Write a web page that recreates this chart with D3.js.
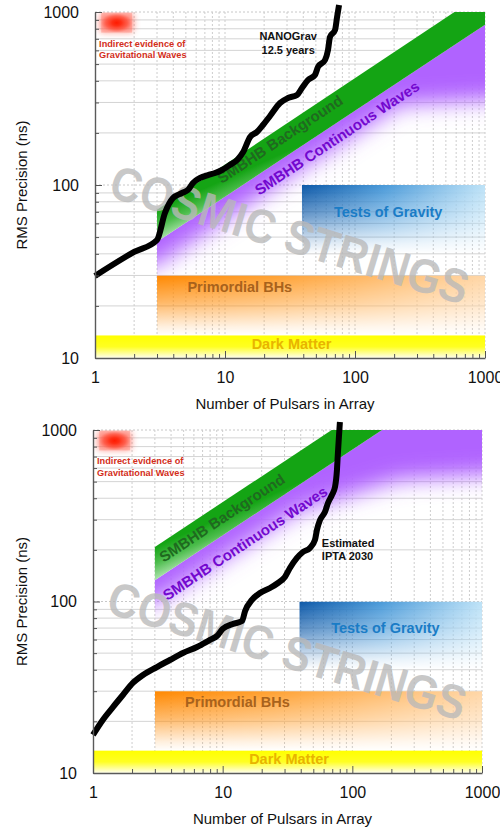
<!DOCTYPE html>
<html><head><meta charset="utf-8">
<script src="https://cdn.jsdelivr.net/npm/d3@7"></script>
<style>
body{margin:0;background:#fff}
svg{display:block}
text{font-family:"Liberation Sans",Arial,Helvetica,sans-serif}
</style>
</head><body>
<svg id="c" width="500" height="831"></svg>
<script>
// ---------------- data ----------------
const xTickValues = [1, 10, 100, 1000];
const xTickLabels = ["1", "10", "100", "1000"];
const yTickValues = [10, 100, 1000];
const yTickLabels = ["10", "100", "1000"];
const xAxisTitle = "Number of Pulsars in Array";
const yAxisTitle = "RMS Precision (ns)";

// NANOGrav 12.5 yr sensitivity curve (top panel)
const nanogravN   = [1, 2, 3, 3.45, 3.98, 4.67, 5.19, 5.67, 6.43, 7.4, 8.38, 9.48, 10.9, 12.4, 13.8, 15.6, 17.6, 19.6, 22.2, 26.5, 30.5, 35.8, 39.1, 43.5, 49.2, 51.9, 58.8, 62, 64.2, 70.2, 72.8, 75.4];
const nanogravRMS = [29.8, 41, 48.1, 68.9, 84.1, 89.9, 93.6, 102.7, 109.8, 114.2, 117.3, 122.1, 130.5, 139.5, 155.1, 189.4, 202.4, 222.2, 250.6, 297.8, 318.4, 331.3, 363.8, 404.6, 432.5, 480.9, 528.1, 603.3, 716.6, 787, 935.5, 1097];
// Estimated IPTA 2030 curve (bottom panel)
const iptaN   = [1, 1.19, 1.43, 1.70, 2.03, 2.43, 3.11, 3.92, 4.94, 6.34, 7.98, 9.04, 10.0, 12.0, 14.1, 14.9, 16.8, 19.4, 23.2, 26.7, 30.2, 33.0, 37.4, 41.6, 47.1, 51.5, 53.3, 56.3, 61.5, 64.9, 69.6, 73.5, 76.1, 77.4, 78.8, 80.2];
const iptaRMS = [16.7, 20.4, 24.3, 28.5, 33.5, 37.3, 41.5, 45.6, 50.1, 54.3, 59.7, 62.9, 69.2, 74.0, 76.9, 88.1, 102.1, 112.1, 119.9, 128.2, 139.0, 156.7, 179.5, 194.4, 205.1, 228.5, 261.2, 298.5, 332.7, 375.4, 417.8, 465.3, 584.5, 734.3, 910.1, 1113];

// SMBHB bands (edges at N = 3 and N = 1000)
const bandN = [3, 1000];
const gwbUpperA = [72, 1310],  gwbLowerA = [47, 845];
const gwbUpperB = [208, 3800], gwbLowerB = [133, 2430];
// where the continuous-wave (purple) band has faded half way
const cwFadeNA = [1, 3, 39, 222, 1000, 3000], cwFadeRMSA = [30, 34.5, 125, 290, 310, 320];
const cwFadeNB = [1, 3, 39.4, 231, 1000, 3000], cwFadeRMSB = [85, 98, 342, 511, 547, 560];

// science regions
const darkMatterN = [1, 1000],  darkMatterRMS = [10, 13.5];
const pbhN = [3, 1000],         pbhRMS = [13.5, 30];
const gravityN = [39, 1000],    gravityRMS = [40, 100];
const indirectN = [1.04, 2.07], indirectRMS = [750, 1000];

// labels
const regionLabels = ["Dark Matter", "Primordial BHs", "Tests of Gravity"];
const regionLabelN = [32.5, 13, 180];
const regionLabelRMS = [11.25, 24.2, 65.5];
const regionLabelColors = ["#e8b400", "#a8621c", "#1a7cc6"];
const indirectLabel = ["Indirect evidence of", "Gravitational Waves"];
const indirectLabelPos = [1.075, 630];
const gwbLabel = "SMBHB Background";
const cwLabel = "SMBHB Continuous Waves";
const gwbLabelPosA = [26.5, 184], cwLabelPosA = [72.7, 187];
const gwbLabelPosB = [9.88, 307], cwLabelPosB = [14.9, 219];
const stringsLabel = "COSMIC STRINGS";
const stringsPos = [31.6, 52];
const nanoLabel = ["NANOGrav", "12.5 years"], nanoLabelPos = [30.6, 690];
const iptaLabel = ["Estimated", "IPTA 2030"], iptaLabelPos = [58.2, 208];

// ---------------- drawing ----------------
const svg = d3.select("#c");
const defs = svg.append("defs");

function addLinear(id, attrs, stops) {
  const g = defs.append("linearGradient").attr("id", id);
  Object.entries(attrs).forEach(([k, v]) => g.attr(k, v));
  stops.forEach(s => g.append("stop").attr("offset", s[0]).attr("stop-color", s[1]).attr("stop-opacity", s[2] === undefined ? 1 : s[2]));
  return g;
}

// shared gradients
addLinear("gYellow", {x1: 0, y1: 0, x2: 0, y2: 1}, [[0, "#ffff00"], [0.5, "#ffff22"], [1, "#ffffee"]]);
addLinear("gOrange", {x1: 0, y1: 0, x2: 1, y2: 0}, [[0, "#ff8800"], [0.35, "#ffa030"], [1, "#ffd6a6"]]);
addLinear("gBlue", {x1: 0, y1: 0, x2: 1, y2: 0}, [[0, "#0c58a8"], [0.45, "#4a9ad9"], [1, "#bde2f7"]]);
addLinear("gFadeMask", {x1: 0, y1: 0, x2: 0, y2: 1}, [[0, "#fff"], [0.45, "#999"], [0.85, "#222"], [1, "#000"]]);
const rg = defs.append("radialGradient").attr("id", "gRed");
[[0, "#ff1a00", 1], [0.3, "#ff2a10", 0.95], [0.7, "#ff4a35", 0.7], [1, "#ff7060", 0.35]].forEach(s =>
  rg.append("stop").attr("offset", s[0]).attr("stop-color", s[1]).attr("stop-opacity", s[2]));
defs.append("filter").attr("id", "blurPurple").attr("filterUnits", "userSpaceOnUse")
  .attr("x", 0).attr("y", 0).attr("width", 500).attr("height", 831)
  .append("feGaussianBlur").attr("stdDeviation", 11);
defs.append("filter").attr("id", "blurRed").attr("x", "-40%").attr("y", "-60%").attr("width", "180%").attr("height", "220%")
  .append("feGaussianBlur").attr("stdDeviation", 3.5);

const panels = [
  {key: "a", x0: 95, x1: 485, yTop: 12, yBot: 358,
   curveN: nanogravN, curveRMS: nanogravRMS, curveLabel: nanoLabel, curveLabelPos: nanoLabelPos, curveAnchor: "middle", curveGap: 14,
   gwbUpper: gwbUpperA, gwbLower: gwbLowerA, cwFadeN: cwFadeNA, cwFadeRMS: cwFadeRMSA,
   gwbPos: gwbLabelPosA, cwPos: cwLabelPosA},
  {key: "b", x0: 93, x1: 482, yTop: 430, yBot: 773,
   curveN: iptaN, curveRMS: iptaRMS, curveLabel: iptaLabel, curveLabelPos: iptaLabelPos, curveAnchor: "start", curveGap: 13,
   gwbUpper: gwbUpperB, gwbLower: gwbLowerB, cwFadeN: cwFadeNB, cwFadeRMS: cwFadeRMSB,
   gwbPos: gwbLabelPosB, cwPos: cwLabelPosB}
];

panels.forEach(p => {
  const x = d3.scaleLog().domain([1, 1000]).range([p.x0, p.x1]);
  const y = d3.scaleLog().domain([10, 1000]).range([p.yBot, p.yTop]);
  const g = svg.append("g");
  const isMajor = v => Math.abs(Math.log10(v) - Math.round(Math.log10(v))) < 1e-9;

  defs.append("clipPath").attr("id", "clip" + p.key).append("rect")
    .attr("x", p.x0).attr("y", p.yTop).attr("width", p.x1 - p.x0).attr("height", p.yBot - p.yTop);

  // grid
  const grid = g.append("g");
  y.ticks().filter(v => v > 10).forEach(v => {
    grid.append("line").attr("x1", p.x0).attr("x2", p.x1).attr("y1", y(v)).attr("y2", y(v))
      .attr("stroke", isMajor(v) ? "#c8c8c8" : "#d4d4d4").attr("stroke-width", 1)
      .attr("stroke-dasharray", isMajor(v) ? "2,2" : null);
  });
  x.ticks().filter(v => v > 1).forEach(v => {
    grid.append("line").attr("x1", x(v)).attr("x2", x(v)).attr("y1", p.yTop).attr("y2", p.yBot)
      .attr("stroke", "#cdcdcd").attr("stroke-width", 1).attr("stroke-dasharray", "2,2");
  });

  const bands = g.append("g").attr("clip-path", `url(#clip${p.key})`);
  const P = (n, r) => [x(n), y(r)];

  // red indirect-evidence blob
  const bx = x(indirectN[0]), by = y(indirectRMS[1]), bw = x(indirectN[1]) - bx, bh = y(indirectRMS[0]) - by;
  bands.append("rect")
    .attr("x", bx + 3).attr("y", by + 2).attr("width", bw - 6).attr("height", bh - 4)
    .attr("fill", "#ff5a4a").attr("opacity", 0.75).attr("filter", "url(#blurRed)");
  bands.append("rect")
    .attr("x", bx + 4).attr("y", by + 1).attr("width", bw - 8).attr("height", bh - 2)
    .attr("fill", "url(#gRed)");

  // purple continuous-wave band: blurred polygon clipped below the boundary line
  const cwClipId = "cwclip" + p.key;
  defs.append("clipPath").attr("id", cwClipId).append("polygon")
    .attr("points", [P(bandN[0], p.gwbLower[0]), P(bandN[1], p.gwbLower[1]), P(bandN[1], 1), P(bandN[0], 1)].map(d => d.join(",")).join(" "));
  const cwPts = [[1, 1e6], [3000, 1e6]].concat(
    p.cwFadeN.map((n, i) => [n, p.cwFadeRMS[i]]).reverse());
  bands.append("g").attr("clip-path", `url(#${cwClipId})`)
    .append("polygon")
    .attr("points", cwPts.map(d => P(d[0], d[1]).join(",")).join(" "))
    .attr("fill", "#b064ff").attr("filter", "url(#blurPurple)");

  // green background band
  {
    const p0 = P(bandN[0], p.gwbUpper[0]), p1 = P(bandN[0], p.gwbLower[0]);
    const s = 0.45, len = Math.hypot(s, 1), nx = s / len, ny = 1 / len;
    const d = (p1[0] - p0[0]) * nx + (p1[1] - p0[1]) * ny;
    addLinear("gGreen" + p.key, {gradientUnits: "userSpaceOnUse", x1: p0[0], y1: p0[1], x2: p0[0] + d * nx, y2: p0[1] + d * ny},
      [[0, "#14a414"], [0.5, "#4dbd4d"], [1, "#ace3ac"]]);
    bands.append("polygon")
      .attr("points", [P(bandN[0], p.gwbUpper[0]), P(bandN[1], p.gwbUpper[1]), P(bandN[1], p.gwbLower[1]), P(bandN[0], p.gwbLower[0])].map(d => d.join(",")).join(" "))
      .attr("fill", `url(#gGreen${p.key})`);
  }

  // masks for fading boxes
  let mCount = 0;
  function fadingRect(nArr, rArr, fill) {
    const mid = "m" + p.key + (mCount++);
    const rx = x(nArr[0]), ry = y(rArr[1]), rw = x(nArr[1]) - x(nArr[0]), rh = y(rArr[0]) - y(rArr[1]);
    defs.append("mask").attr("id", mid).attr("maskUnits", "userSpaceOnUse")
      .attr("x", rx - 1).attr("y", ry - 1).attr("width", rw + 2).attr("height", rh + 2)
      .append("rect").attr("x", rx).attr("y", ry).attr("width", rw).attr("height", rh).attr("fill", "url(#gFadeMask)");
    bands.append("rect").attr("x", rx).attr("y", ry).attr("width", rw).attr("height", rh)
      .attr("fill", fill).attr("mask", `url(#${mid})`);
  }
  fadingRect(gravityN, gravityRMS, "url(#gBlue)");
  fadingRect(pbhN, pbhRMS, "url(#gOrange)");

  // dark matter band
  bands.append("rect")
    .attr("x", x(darkMatterN[0])).attr("y", y(darkMatterRMS[1]))
    .attr("width", x(darkMatterN[1]) - x(darkMatterN[0])).attr("height", y(darkMatterRMS[0]) - y(darkMatterRMS[1]))
    .attr("fill", "url(#gYellow)");

  // cosmic strings watermark
  g.append("text")
    .attr("transform", `translate(${x(stringsPos[0])},${y(stringsPos[1])}) rotate(17)`)
    .attr("text-anchor", "middle").attr("dy", "0.36em")
    .attr("font-size", 48).attr("font-weight", "bold")
    .attr("textLength", 372).attr("lengthAdjust", "spacingAndGlyphs")
    .attr("fill", "#b9b9b9").attr("fill-opacity", 0.78)
    .text(stringsLabel);

  // band labels
  const ang = Math.atan2(y(p.gwbLower[1]) - y(p.gwbLower[0]), x(bandN[1]) - x(bandN[0])) * 180 / Math.PI;
  [[gwbLabel, p.gwbPos, "#1f6a1f"], [cwLabel, p.cwPos, "#7308cf"]].forEach(([t, pos, c]) => {
    g.append("text").attr("transform", `translate(${x(pos[0])},${y(pos[1])}) rotate(${ang})`)
      .attr("text-anchor", "middle").attr("dy", "0.35em")
      .attr("font-size", 15).attr("font-weight", "bold").attr("fill", c).text(t);
  });
  regionLabels.forEach((t, i) => {
    g.append("text").attr("x", x(regionLabelN[i])).attr("y", y(regionLabelRMS[i]))
      .attr("text-anchor", "middle").attr("font-size", 14.5).attr("font-weight", "bold")
      .attr("fill", regionLabelColors[i]).text(t);
  });
  indirectLabel.forEach((t, i) => {
    g.append("text").attr("x", x(indirectLabelPos[0])).attr("y", y(indirectLabelPos[1]) + i * 11.5)
      .attr("font-size", 9.2).attr("font-weight", "bold").attr("fill", "#d32e1a").text(t);
  });

  // sensitivity curve
  const line = d3.line().x((d, i) => x(p.curveN[i])).y((d, i) => y(p.curveRMS[i])).curve(d3.curveMonotoneX);
  g.append("path").datum(p.curveN).attr("d", line)
    .attr("fill", "none").attr("stroke", "#000").attr("stroke-width", 6)
    .attr("stroke-linejoin", "round").attr("stroke-linecap", "butt");
  p.curveLabel.forEach((t, i) => {
    g.append("text").attr("x", x(p.curveLabelPos[0])).attr("y", y(p.curveLabelPos[1]) + i * p.curveGap)
      .attr("text-anchor", p.curveAnchor).attr("font-size", 11).attr("font-weight", "bold")
      .attr("fill", "#111").text(t);
  });

  // axes (ticks inward)
  const axL = g.append("g").attr("transform", `translate(${p.x0},0)`)
    .call(d3.axisLeft(y).tickValues(y.ticks()).tickSizeInner(-4).tickSizeOuter(0).tickFormat(""));
  const axB = g.append("g").attr("transform", `translate(0,${p.yBot})`)
    .call(d3.axisBottom(x).tickValues(x.ticks()).tickSizeInner(-4).tickSizeOuter(0).tickFormat(""));
  [axL, axB].forEach(a => {
    a.select(".domain").attr("stroke", "#5a5a5a").attr("stroke-width", 1.4);
    a.selectAll(".tick line").attr("stroke", "#555").attr("stroke-width", 1);
  });
  axL.selectAll(".tick line").filter(d => isMajor(d)).attr("x2", 7);
  axB.selectAll(".tick line").filter(d => isMajor(d)).attr("y2", -7);

  // tick labels
  const labY = g.append("g").attr("transform", `translate(${p.x0},0)`)
    .call(d3.axisLeft(y).tickValues(yTickValues).tickFormat((d, i) => yTickLabels[i]).tickSize(0).tickPadding(16));
  const labX = g.append("g").attr("transform", `translate(0,${p.yBot})`)
    .call(d3.axisBottom(x).tickValues(xTickValues).tickFormat((d, i) => xTickLabels[i]).tickSize(0).tickPadding(13.6));
  [labY, labX].forEach(a => {
    a.select(".domain").remove();
    a.attr("font-family", null).attr("font-size", null);
    a.selectAll("text").attr("font-size", 16).attr("fill", "#111");
  });

  // axis titles
  g.append("text").attr("x", (p.x0 + p.x1) / 2 - 5).attr("y", p.yBot + 51)
    .attr("text-anchor", "middle").attr("font-size", 15).attr("fill", "#111").text(xAxisTitle);
  g.append("text").attr("transform", `translate(27,${(p.yTop + p.yBot) / 2}) rotate(-90)`)
    .attr("text-anchor", "middle").attr("font-size", 15).attr("fill", "#111").text(yAxisTitle);
});
</script>
</body></html>
